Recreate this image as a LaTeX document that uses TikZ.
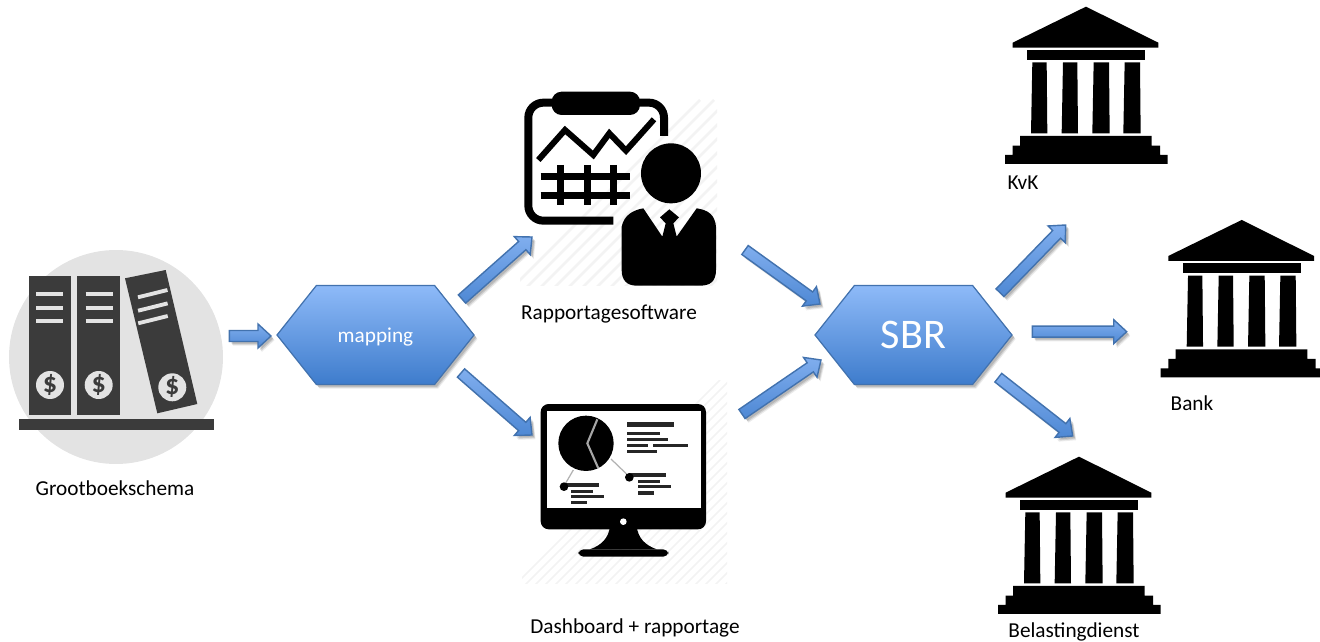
\documentclass[tikz,border=0pt]{standalone}
\usepackage{fontspec}
\setmainfont{Carlito}
\usepackage{tikz}
\usetikzlibrary{calc,shadows,shapes.symbols}
\definecolor{flowline}{RGB}{66,114,174}
\definecolor{flowtop}{RGB}{142,186,248}
\definecolor{flowbot}{RGB}{62,124,204}
\definecolor{arrowtop}{RGB}{128,174,238}
\definecolor{arrowbot}{RGB}{78,136,212}
\definecolor{bookgrey}{RGB}{59,59,59}
\definecolor{discgrey}{RGB}{227,227,227}
\definecolor{hatchgrey}{RGB}{243,243,243}
\tikzstyle{softshadow}=[drop shadow={shadow xshift=1.6pt,shadow yshift=-1.8pt,opacity=.12,fill=black},
  drop shadow={shadow xshift=1.2pt,shadow yshift=-1.2pt,opacity=.12,fill=black},
  drop shadow={shadow xshift=2pt,shadow yshift=-2.4pt,opacity=.08,fill=black}]
\tikzstyle{hexa}=[shape=signal,signal to=east and west,signal pointer angle=103,
  minimum width=3.94cm,minimum height=1.98cm,inner sep=0pt,draw=flowline,line width=.7pt,
  top color=flowtop,bottom color=flowbot,text=white,text depth=0pt,softshadow]
\tikzstyle{caption}=[font=\fontsize{12.1}{14}\selectfont,inner sep=0pt]
\tikzstyle{flow}=[draw=flowline,line width=.8pt,top color=arrowtop,bottom color=arrowbot,softshadow,
  to path={($(\tikztostart)!.11cm!90:(\tikztotarget)$)
    -- ($(\tikztotarget)!.26cm!(\tikztostart)!.11cm!90:(\tikztotarget)$)
    -- ($(\tikztotarget)!.26cm!(\tikztostart)!.24cm!90:(\tikztotarget)$)
    -- (\tikztotarget)
    -- ($(\tikztotarget)!.26cm!(\tikztostart)!.24cm!-90:(\tikztotarget)$)
    -- ($(\tikztotarget)!.26cm!(\tikztostart)!.11cm!-90:(\tikztotarget)$)
    -- ($(\tikztostart)!.11cm!-90:(\tikztotarget)$) -- cycle}]
\tikzset{bank/.pic={
  \fill (288,20) -- (505,128) -- (505,143) -- (68,143) -- (68,128) -- cycle;
  \fill (112,150) rectangle (465,180);
  \foreach \left/\right in {127/170,219/262,311/357,404/450}
    \fill (\left,187) -- (\right,187) -- (\right+2,400) -- (\left-4,400) -- cycle;
  \fill (90,408) -- (485,408) -- (485,437) -- (510,437) -- (510,465) -- (533,465) -- (533,492)
    -- (45,492) -- (45,465) -- (68,465) -- (68,437) -- (90,437) -- cycle;
}}
\begin{document}
\begin{tikzpicture}[x=.02cm,y=-.02cm]
  \useasboundingbox (0,0) rectangle (1320,642);
  % books
  \fill[discgrey] (116,357) circle (107);
  \fill[bookgrey] (29,276) rectangle (71,415);
  \fill[bookgrey] (77.3,276) rectangle (120,415);
  \fill[bookgrey] (125,278.3) -- (165.7,270) -- (197.3,404) -- (157.3,413.3) -- cycle;
  \fill[bookgrey] (19,419.3) rectangle (213.7,430);
  \foreach \x in {36,85.7}
    \foreach \y in {294.3,307.7,320.7}
      \draw[discgrey,line width=2.2pt] (\x,\y) -- (\x+27,\y);
  \foreach \y in {297.3,310.7,323.3}
    \draw[discgrey,line width=2.2pt] (135+\y/100,\y) -- (164.5+\y/100,\y-7.3);
  \foreach \name/\x/\y in {B-1/50/385,B-2/98.7/385,B-3/172.3/387.3}
    \node[circle,fill=discgrey,text=bookgrey,minimum size=.56cm,inner sep=0pt,font=\fontsize{16}{16}\selectfont\bfseries] (\name) at (\x,\y) {\$};
  % report icon
  \begin{scope}
    \clip (520,90) rectangle (717,285);
    \foreach \i in {0,14,...,420}
      \draw[hatchgrey,line width=1.6pt] (500+\i,300) -- (700+\i,100);
  \end{scope}
  \begin{scope}[shift={(500,80)},scale=1/3]
    \draw[line width=.16cm,rounded corners=.3cm,line cap=butt] (492,168) -- (492,68) -- (85,68) -- (85,422) -- (340,422);
    \fill[rounded corners=.2cm] (155,35) rectangle (420,105);
    \draw[line width=.12cm,line join=miter] (115,240) -- (195,150) -- (280,225) -- (328,160) -- (378,212) -- (462,118);
    \foreach \y in {290,347}
      \draw[line width=.14cm] (122,\y) -- (390,\y);
    \foreach \x in {180,262,340}
      \draw[line width=.14cm] (\x,255) -- (\x,375);
    \fill (513,280) circle (90);
    \fill (365,440) .. controls (372,405) and (400,390) .. (430,385) -- (487,470) -- (497,430) -- (480,412)
      -- (508,388) -- (537,412) -- (520,430) -- (530,470) -- (590,385) .. controls (625,390) and (645,405) .. (648,440)
      -- (648,570) .. controls (648,605) and (630,617) .. (600,617) -- (410,617) .. controls (380,617) and (365,600) .. (365,570) -- cycle;
  \end{scope}
  % dashboard icon
  \begin{scope}
    \clip (522,380) rectangle (727,583);
    \foreach \i in {0,10,...,430}
      \draw[hatchgrey,line width=1pt] (500+\i,600) -- (720+\i,380);
  \end{scope}
  \begin{scope}[shift={(510,380)},scale=1/3]
    \fill[rounded corners=.16cm] (92,72) rectangle (588,448);
    \fill[white] (110,93) rectangle (572,385);
    \fill (300,440) .. controls (295,475) and (275,495) .. (240,508) -- (440,508) .. controls (405,495) and (385,475) .. (380,440) -- cycle;
    \fill[rounded corners=.1cm] (205,508) rectangle (475,530);
    \fill[white] (340,425) circle (10);
    \draw[black!30,line width=.7pt] (303,237) -- (358,290) (190,270) -- (162,318);
    \fill (228,190) circle (83);
    \draw[black!35,line width=1.2pt] (262,118) -- (232,190) -- (265,265);
    \foreach \xa/\ya/\xb/\yb in {350/125/492/142,350/157/450/166,350/175/475/184,350/193/415/202,428/193/533/202,350/209/442/218,
        358/280/468/292,385/300/450/308,385/316/483/325,383/333/433/344,
        162/308/266/320,182/330/248/338,182/346/281/355,182/362/232/372}
      \fill[black!85] (\xa,\ya) rectangle (\xb,\yb);
    \fill (358,292) circle (13) (162,320) circle (13);
  \end{scope}
  % banks
  \pic[shift={(990,0)},scale=1/3] (kvk) {bank};
  \pic[shift={(1145.7,213.3)},scale=1/3] (bank) {bank};
  \pic[shift={(983,450)},scale=1/3] (bel) {bank};
  % hexagons
  \node[hexa,text height=9pt,font=\fontsize{12.1}{14}\selectfont] (mapping) at (375.5,335) {mapping};
  \node[hexa,text height=15.2pt,font=\fontsize{24}{26}\selectfont] (sbr) at (913.5,335) {SBR};
  % captions
  \foreach \name/\x/\y/\text in {L-1/115/488/Grootboekschema,L-2/609/314/Rapportagesoftware,L-3/635/628/Dashboard + rapportage,
                                 L-4/1023/183/KvK,L-5/1192/403/Bank,L-6/1074/632/Belastingdienst}
    \node[caption] (\name) at (\x,\y) {\text};
  % arrows
  \foreach \name/\x/\y in {A-1/229.3/336,A-2/271/336,C-1/462/299,C-2/532/237,D-1/461/373,D-2/532/435,
                           E-1/745/250,E-2/820/304,F-1/742/414,F-2/821/360,
                           G-1/1000/292.7,G-2/1065.7/225,H-1/1032.3/331.7,H-2/1126.7/331.7,I-1/998.3/377.7,I-2/1072.7/436}
    \coordinate (\name) at (\x,\y);
  \foreach \from in {A,C,D,E,F,G,H,I}
    \draw[flow] (\from-1) to (\from-2);
\end{tikzpicture}
\end{document}
